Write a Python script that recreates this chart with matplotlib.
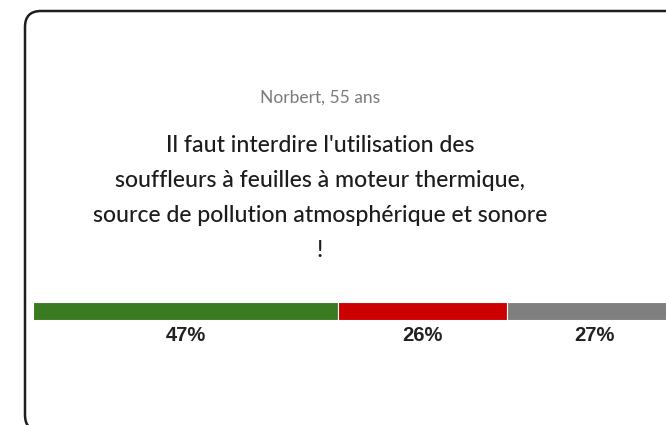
import matplotlib.pyplot as plt
from matplotlib.patches import FancyBboxPatch

W, H = 666, 425

AUTHOR = "Norbert, 55 ans"
QUOTE_LINES = [
    "Il faut interdire l'utilisation des",
    "souffleurs à feuilles à moteur thermique,",
    "source de pollution atmosphérique et sonore",
    "!",
]
SHARES = [47, 26, 27]
SHARE_COLORS = ["#3a7a21", "#cc0000", "#7f7f7f"]


def main():
    fig = plt.figure(figsize=(W / 100, H / 100), dpi=100)
    fig.patch.set_facecolor("white")

    # background layer in pixel units: card outline and text
    bg = fig.add_axes([0, 0, 1, 1])
    bg.set_xlim(0, W)
    bg.set_ylim(H, 0)
    bg.axis("off")

    card = FancyBboxPatch((25, 11), 700, 420,
                          boxstyle="round,pad=0,rounding_size=16",
                          facecolor="white", edgecolor="#1e1e1e", linewidth=1.8)
    bg.add_patch(card)

    bg.text(320, 98, AUTHOR, ha="center", va="center", fontsize=12.5,
            color="#7a7a7a", family="Lato")
    baselines = [152, 187, 222, 257]
    for line, yb in zip(QUOTE_LINES, baselines):
        bg.text(320, yb, line, ha="center", va="baseline", fontsize=16.6,
                fontweight="medium", color="#1c1c1c", family="Lato")

    # stacked share bar; 100% runs past the right edge of the card
    left_px, full_px = 33, 649
    top_px, bot_px = 302, 320
    bar = fig.add_axes([left_px / W, 1 - bot_px / H, full_px / W, (bot_px - top_px) / H])
    bar.set_xlim(0, 100)
    bar.set_ylim(-0.5, 0.5)
    bar.axis("off")

    left = 0
    for share, color in zip(SHARES, SHARE_COLORS):
        bar.barh(0, share, left=left, height=1, color=color,
                 edgecolor="white", linewidth=0.8)
        bar.annotate(f"{share}%", xy=(left + share / 2, 0), xytext=(0, -17.5),
                     textcoords="offset points", ha="center", va="center",
                     fontsize=14.5, fontweight="bold", color="#222222",
                     family="Liberation Sans")
        left += share

    fig.savefig("out.png", dpi=100, facecolor="white")


if __name__ == "__main__":
    main()
